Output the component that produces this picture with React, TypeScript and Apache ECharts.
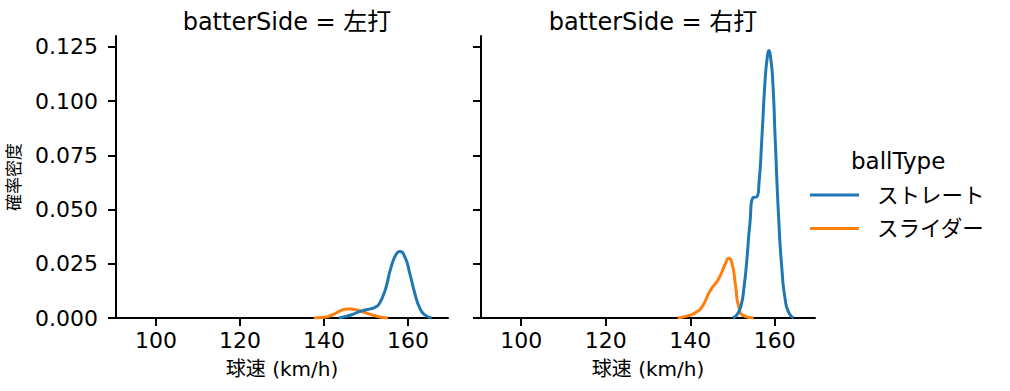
import React, { useEffect, useRef } from "react";
import * as echarts from "echarts";

const xTicks = [100, 120, 140, 160];
const yTicks = [0, 0.025, 0.05, 0.075, 0.1, 0.125];
const panels = ["batterSide = 左打", "batterSide = 右打"];
const ballTypes = ["ストレート", "スライダー"];
const colors = ["#1f77b4", "#ff7f0e"];

// 左打
const leftStraight: [number, number][] = [
  [143.5, 0], [144.5, 0.0004], [146.4, 0.0014], [148.8, 0.0032], [151.2, 0.0043],
  [152.4, 0.0052], [153.2, 0.0068], [154.0, 0.0100], [154.8, 0.0145], [156.0, 0.0237],
  [157.2, 0.0295], [158.0, 0.0306], [159.2, 0.0283], [160.4, 0.0206], [161.6, 0.0114],
  [162.8, 0.0045], [164.0, 0.0014], [165.6, 0],
];
const leftSlider: [number, number][] = [
  [137.6, 0], [140, 0.0003], [142, 0.0015], [144, 0.0034], [145.6, 0.0042],
  [147, 0.0040], [149, 0.0030], [151, 0.0017], [153, 0.0006], [155.2, 0],
];
// 右打
const rightStraight: [number, number][] = [
  [150.1, 0], [151.2, 0.0020], [152.1, 0.0065], [152.7, 0.0140], [153.3, 0.025],
  [154.1, 0.0434], [154.9, 0.0556], [155.7, 0.0558], [156.3, 0.0633], [156.9, 0.0818],
  [157.7, 0.1095], [158.2, 0.120], [158.6, 0.1233], [159.0, 0.120], [159.5, 0.1095],
  [160.1, 0.0818], [160.9, 0.0464], [161.7, 0.0218], [162.5, 0.0080], [163.3, 0.0025],
  [164.4, 0],
];
const rightSlider: [number, number][] = [
  [137.0, 0], [139.8, 0.0012], [141.3, 0.0026], [142.7, 0.0049], [144.7, 0.0126],
  [146.7, 0.0180], [148.3, 0.0250], [149.1, 0.0275], [149.9, 0.0250], [150.7, 0.0150],
  [151.5, 0.0049], [152.7, 0.0010], [155.0, 0],
];

const FONT = "DejaVu Sans, Noto Sans CJK JP";

export default function App() {
  const ref = useRef<HTMLDivElement>(null);
  useEffect(() => {
    if (!ref.current) return;
    const chart = echarts.init(ref.current, null, { renderer: "svg" });
    const grids = [
      { left: 116, top: 36, width: 332, height: 282 },
      { left: 481, top: 36, width: 334, height: 282 },
    ];
    const axisLine = { show: true, lineStyle: { color: "#000", width: 2 } };
    const axisTick = (vals: number[]) => ({
      show: true, length: 8, inside: false, customValues: vals,
      lineStyle: { color: "#000", width: 2 },
    });
    const xAxes = grids.map((_, i) => ({
      type: "value", gridIndex: i, min: 90.5, max: 169.5,
      axisLine, axisTick: axisTick(xTicks), splitLine: { show: false },
      axisLabel: { customValues: xTicks, color: "#000", fontSize: 22, fontFamily: FONT, margin: 11 },
      name: "球速 (km/h)", nameLocation: "middle", nameGap: 41,
      nameTextStyle: { color: "#000", fontSize: 20, fontFamily: FONT },
    }));
    const yAxes = grids.map((_, i) => ({
      type: "value", gridIndex: i, min: 0, max: 0.13,
      axisLine, axisTick: axisTick(yTicks), splitLine: { show: false },
      axisLabel: {
        show: i === 0, customValues: yTicks, color: "#000", fontSize: 22, fontFamily: FONT, margin: 18,
        formatter: (v: number) => v.toFixed(3),
      },
      name: i === 0 ? "確率密度" : "", nameLocation: "middle", nameGap: 94, nameRotate: 90,
      nameTextStyle: { color: "#000", fontSize: 17, fontFamily: FONT },
    }));
    const data = [[leftStraight, leftSlider], [rightStraight, rightSlider]];
    const series: any[] = [];
    data.forEach((pd, gi) =>
      pd.forEach((d, si) =>
        series.push({
          type: "line", name: ballTypes[si], xAxisIndex: gi, yAxisIndex: gi,
          data: d, showSymbol: false, smooth: 0.6,
          lineStyle: { color: colors[si], width: 3 }, itemStyle: { color: colors[si] },
          z: si === 0 ? 3 : 2,
        })
      )
    );
    const graphic: any[] = [
      { type: "text", x: 851, y: 161, style: { text: "ballType", fontSize: 23, fontFamily: FONT, fill: "#000", verticalAlign: "middle" } },
    ];
    ballTypes.forEach((b, i) => {
      const y = 195 + i * 33.5;
      graphic.push({ type: "line", shape: { x1: 810, y1: y, x2: 859, y2: y }, style: { stroke: colors[i], lineWidth: 3 } });
      graphic.push({ type: "text", x: 877, y, style: { text: b, fontSize: 21.5, fontFamily: FONT, fill: "#000", verticalAlign: "middle" } });
    });
    chart.setOption({
      animation: false,
      backgroundColor: "#fff",
      title: panels.map((t, i) => ({
        text: t, left: i === 0 ? 282 : 648, top: 5, textAlign: "center",
        textStyle: { fontSize: 24, fontWeight: "normal", color: "#000", fontFamily: FONT },
      })),
      grid: grids,
      xAxis: xAxes,
      yAxis: yAxes,
      series,
      graphic,
    });
    return () => chart.dispose();
  }, []);
  return <div ref={ref} style={{ width: 1010, height: 391, position: "absolute", left: 0, top: 0 }} />;
}
